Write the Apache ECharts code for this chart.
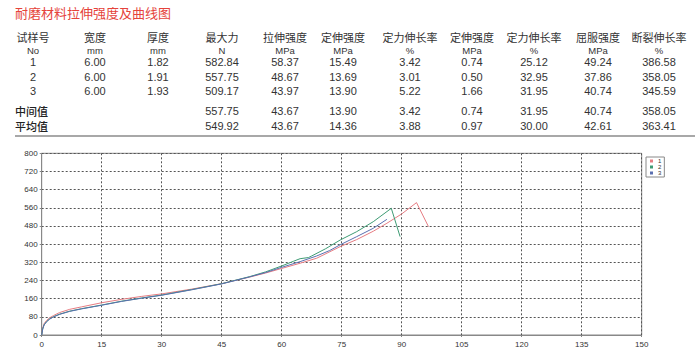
<!DOCTYPE html>
<html><head><meta charset="utf-8">
<script src="https://cdn.jsdelivr.net/npm/echarts@6/dist/echarts.min.js"></script>
<style>html,body{margin:0;padding:0;background:#fff}#c{width:700px;height:357px}</style>
</head><body><div id="c"></div>
<script>
var titleText = '耐磨材料拉伸强度及曲线图';
var headers = ['试样号','宽度','厚度','最大力','拉伸强度','定伸强度','定力伸长率','定伸强度','定力伸长率','屈服强度','断裂伸长率'];
var units   = ['No','mm','mm','N','MPa','MPa','%','MPa','%','MPa','%'];
var sampleRows = [
  ['1','6.00','1.82','582.84','58.37','15.49','3.42','0.74','25.12','49.24','386.58'],
  ['2','6.00','1.91','557.75','48.67','13.69','3.01','0.50','32.95','37.86','358.05'],
  ['3','6.00','1.93','509.17','43.97','13.90','5.22','1.66','31.95','40.74','345.59']
];
var statRows = [
  ['中间值','','','557.75','43.67','13.90','3.42','0.74','31.95','40.74','358.05'],
  ['平均值','','','549.92','43.67','14.36','3.88','0.97','30.00','42.61','363.41']
];
var legendNames = ['1','2','3'];
var xTicks = [0,15,30,45,60,75,90,105,120,135,150];
var yTicks = [0,80,160,240,320,400,480,560,640,720,800];
// curve 1 (red)
var curve1 = [[0,0],[0.25,30],[0.6,50],[1.2,64],[2,76],[3,86],[4.5,99],[7,113],[10,124],[15,142],[20,157],[25,170],[30,181],[37.5,202],[45,226],[52,255],[56,273],[60,293],[64.6,316],[68.75,338],[74.6,389],[78.75,420],[82.9,457],[86.3,492],[90,533],[93.7,582.84],[96.7,477]];
// curve 2 (green)
var curve2 = [[0,0],[0.25,27],[0.6,45],[1.2,59],[2,71],[3,81],[4.5,92],[7,105],[10,116],[15,132],[20,149],[25,163],[30,176],[37.5,200],[45,226],[52,257],[56,278],[60,304],[63,325],[64.6,336],[66.7,341],[67.5,348],[71,380],[74.6,418],[78.75,455],[82.9,499],[87.4,557.75],[89.6,433]];
// curve 3 (blue)
var curve3 = [[0,0],[0.25,26],[0.6,44],[1.2,58],[2,70],[3,80],[4.5,91],[7,104],[10,115],[15,131],[20,148],[25,162],[30,175],[37.5,199],[45,225],[52,256],[56,275],[60,298],[64.6,323],[68.75,348],[72,372],[74.6,397],[78.75,433],[82.9,470],[86.3,509.17]];

var colX = [33,95,158,222,285,343,410,472,534,598,659];
var rowY = [62,77,91];
var statY = [111,126];
var font11 = '11px "Liberation Sans", "Noto Sans CJK SC", sans-serif';
var cjk11 = '11px "Noto Sans CJK SC", sans-serif';
var txtColor = '#333';

var g = [];
g.push({type:'text', left:15, top:6, style:{text:titleText, fill:'#e5433b', font:'13px "Noto Sans CJK SC", sans-serif'}});
function t(txt,x,y,font,align,fill){
  g.push({type:'text', x:x, y:y, style:{text:txt, x:0, y:0, fill:fill||txtColor, font:font, textAlign:align||'center', textVerticalAlign:'middle'}});
}
headers.forEach(function(h,i){ t(h,colX[i],37,cjk11); });
units.forEach(function(u,i){ t(u,colX[i],50,'9.5px "Liberation Sans", sans-serif'); });
sampleRows.forEach(function(r,ri){ r.forEach(function(v,i){ t(v,colX[i],rowY[ri],font11); }); });
statRows.forEach(function(r,ri){ r.forEach(function(v,i){
  if(!v) return;
  if(i===0) t(v,15,statY[ri],'500 11px "Noto Sans CJK SC", sans-serif','left','#222');
  else t(v,colX[i],statY[ri],font11);
}); });
g.push({type:'rect', shape:{x:15,y:135,width:680,height:2}, style:{fill:'#a8a8a8'}});

var chart = echarts.init(document.getElementById('c'), null, {renderer:'svg'});
var axisLbl = {fontSize:8, color:'#333', fontFamily:'"Liberation Sans", sans-serif'};
var split = {show:true, lineStyle:{color:'#555', type:[2,2], width:1}};
chart.setOption({
  animation:false,
  backgroundColor:'#fff',
  graphic:g,
  grid:{left:41.7, right:58.3, top:153.3, bottom:22, show:true, borderColor:'#888', borderWidth:1},
  legend:{data:legendNames, orient:'vertical', left:646, top:157, icon:'rect', itemWidth:3, itemHeight:3, itemGap:0,
    padding:[1,3,1,4], borderColor:'#888', borderWidth:1, textStyle:{fontSize:6, color:'#333', lineHeight:6}},
  xAxis:{type:'value', min:0, max:150, interval:15,
    axisLine:{show:true, lineStyle:{color:'#888'}}, axisTick:{show:true, length:2, lineStyle:{color:'#888'}},
    axisLabel:Object.assign({margin:5, customValues:xTicks}, axisLbl), splitLine:split},
  yAxis:{type:'value', min:0, max:800, interval:80,
    axisLine:{show:true, lineStyle:{color:'#888'}}, axisTick:{show:true, length:2, lineStyle:{color:'#888'}},
    axisLabel:Object.assign({margin:4, customValues:yTicks}, axisLbl), splitLine:split},
  series:[
    {name:legendNames[0], type:'line', data:curve1, showSymbol:false, lineStyle:{color:'#e67c82', width:1}, itemStyle:{color:'#e67c82'}},
    {name:legendNames[1], type:'line', data:curve2, showSymbol:false, lineStyle:{color:'#3e9b74', width:1}, itemStyle:{color:'#3e9b74'}},
    {name:legendNames[2], type:'line', data:curve3, showSymbol:false, lineStyle:{color:'#5a6fb0', width:1}, itemStyle:{color:'#5a6fb0'}}
  ]
});
</script></body></html>
